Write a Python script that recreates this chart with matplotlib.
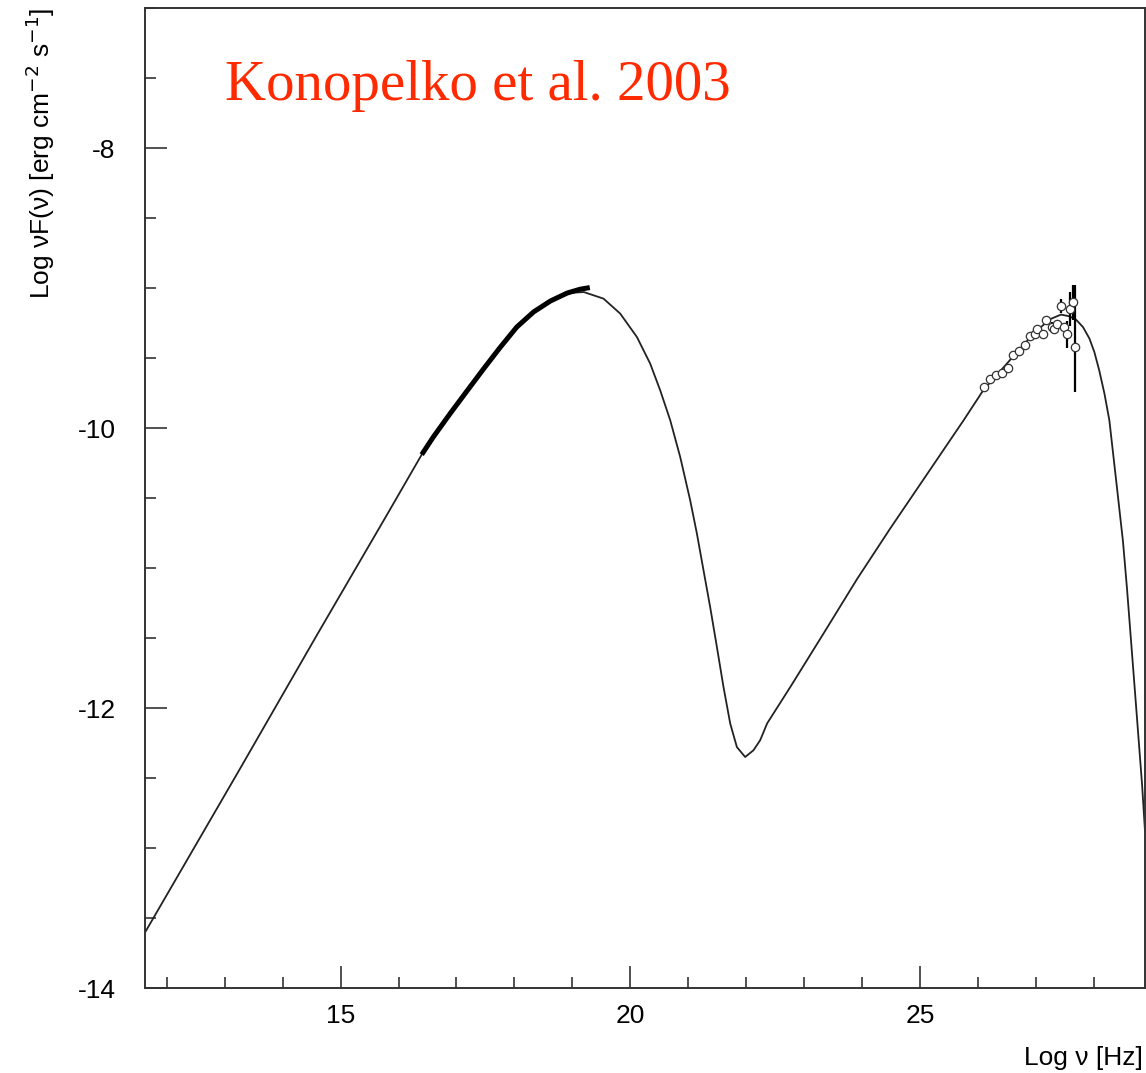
import matplotlib
matplotlib.use("Agg")
import matplotlib.pyplot as plt
from matplotlib.ticker import MultipleLocator

plt.rcParams["axes.unicode_minus"] = False

# Model SED curve: log(nu) [Hz] vs log(nu F nu)
model_x = [11.63, 13.27, 14.59, 15.80, 16.40, 16.60, 16.89, 17.18, 17.47, 17.75,
           18.04, 18.33, 18.62, 18.91, 19.197, 19.537, 19.825, 20.113, 20.342, 20.515,
           20.688, 20.86, 21.032, 21.148, 21.262, 21.377, 21.493, 21.607, 21.723, 21.838,
           21.981, 22.124, 22.24, 22.36, 22.76, 23.33, 23.91, 24.48, 25.75, 26.09,
           26.55, 26.95, 27.23, 27.43, 27.575, 27.69, 27.81, 27.92, 28.006, 28.09,
           28.18, 28.265, 28.40, 28.50, 28.57, 28.71, 28.83, 28.88]
model_y = [-13.60, -12.43, -11.48, -10.62, -10.19, -10.064, -9.897, -9.736, -9.576, -9.426,
           -9.279, -9.171, -9.093, -9.036, -9.029, -9.076, -9.183, -9.35, -9.54, -9.731,
           -9.945, -10.207, -10.516, -10.754, -11.016, -11.279, -11.564, -11.85, -12.111, -12.279,
           -12.35, -12.302, -12.23, -12.11, -11.85, -11.47, -11.08, -10.72, -9.945, -9.73,
           -9.515, -9.33, -9.225, -9.19, -9.202, -9.226, -9.279, -9.36, -9.457, -9.588,
           -9.754, -9.945, -10.44, -10.81, -11.15, -11.90, -12.55, -12.88]

# X-ray band measured spectrum (thick segment)
xray_x = [16.40, 16.60, 16.89, 17.18, 17.47, 17.75, 18.04, 18.33, 18.62, 18.91,
          19.13, 19.30]
xray_y = [-10.19, -10.064, -9.897, -9.736, -9.576, -9.426, -9.279, -9.171, -9.093, -9.036,
          -9.009, -8.997]

# TeV data points with asymmetric errors
tev_x = [26.10, 26.20, 26.31, 26.41, 26.51, 26.61, 26.71, 26.81, 26.90, 26.98,
         27.02, 27.12, 27.17, 27.27, 27.31, 27.36, 27.43, 27.48, 27.53, 27.58,
         27.63, 27.68]
tev_y = [-9.71, -9.65, -9.62, -9.61, -9.57, -9.48, -9.45, -9.41, -9.34, -9.33,
         -9.29, -9.33, -9.23, -9.28, -9.29, -9.26, -9.13, -9.28, -9.33, -9.15,
         -9.10, -9.42]
tev_err_lo = [0.01, 0.01, 0.01, 0.01, 0.01, 0.01, 0.01, 0.01, 0.01, 0.01,
              0.01, 0.01, 0.02, 0.04, 0.03, 0.03, 0.05, 0.03, 0.10, 0.12,
              0.13, 0.32]
tev_err_hi = [0.01, 0.01, 0.01, 0.01, 0.01, 0.01, 0.01, 0.01, 0.01, 0.01,
              0.01, 0.01, 0.02, 0.04, 0.03, 0.03, 0.05, 0.03, 0.095, 0.12,
              0.12, 0.44]

xlim = (11.62, 28.88)
ylim = (-14.0, -7.0)

W, H = 1146, 1073
fig = plt.figure(figsize=(W / 100, H / 100), dpi=100)
ax = fig.add_axes([144.7 / W, 1 - 988 / H, (1145 - 144.7) / W, (988 - 8) / H])

line_col = "#222222"
ax.plot(model_x, model_y, color=line_col, lw=1.3, solid_joinstyle="round", zorder=2)
ax.plot(xray_x, xray_y, color="black", lw=3.6, solid_capstyle="butt",
        solid_joinstyle="round", zorder=3)

ax.errorbar(tev_x, tev_y, yerr=[tev_err_lo, tev_err_hi], fmt="o", ms=6,
            mfc="white", mec="#333333", mew=0.9, ecolor="black",
            elinewidth=1.6, capsize=0, zorder=4)

ax.set_xlim(*xlim)
ax.set_ylim(*ylim)

ax.xaxis.set_major_locator(MultipleLocator(5))
ax.xaxis.set_minor_locator(MultipleLocator(1))
ax.yaxis.set_major_locator(MultipleLocator(2))
ax.yaxis.set_minor_locator(MultipleLocator(0.5))

sans = ["Liberation Sans", "DejaVu Sans"]
ax.tick_params(which="both", direction="in", color="#333333", width=1.2,
               top=False, right=False)
ax.tick_params(which="major", length=15.8)
ax.tick_params(which="minor", length=7.9)
ax.tick_params(axis="x", which="major", pad=11.5, labelsize=19)
ax.tick_params(axis="y", which="major", pad=21, labelsize=19)
for lab in ax.get_xticklabels() + ax.get_yticklabels():
    lab.set_family(sans)

for s in ax.spines.values():
    s.set_color("#333333")
    s.set_linewidth(1.4)

fig.text(40 / W, 1 - 8 / H, "Log \u03bdF(\u03bd) [erg cm$^{-2}$ s$^{-1}$]",
         rotation=90, ha="center", va="top", fontsize=19, family=sans)
fig.text(1143 / W, 1 - 1065 / H, "Log \u03bd [Hz]", ha="right",
         va="baseline", fontsize=19, family=sans)

fig.text(225 / W, 1 - 100 / H, "Konopelko et al. 2003", ha="left",
         va="baseline", fontsize=41, color="#ff2a00",
         family=["Liberation Serif", "DejaVu Serif"])

fig.savefig("out.png", dpi=100)
